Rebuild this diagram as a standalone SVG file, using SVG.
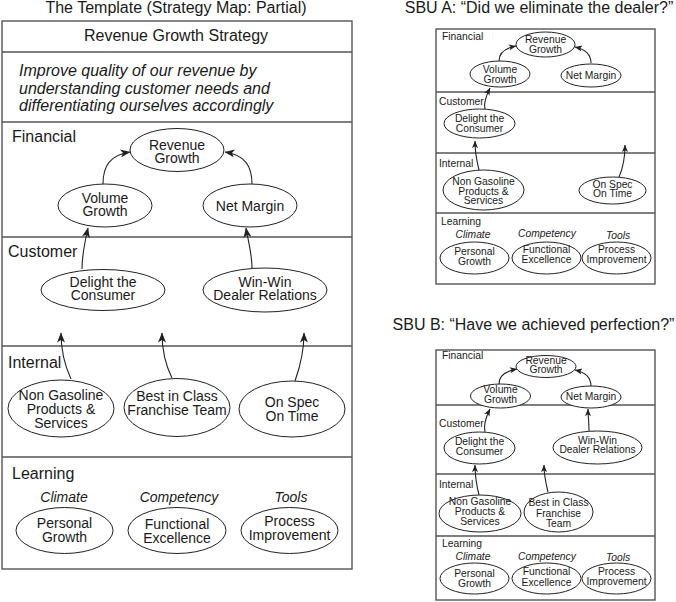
<svg xmlns="http://www.w3.org/2000/svg" width="676" height="602" viewBox="0 0 676 602">
<defs>
<style>
text{font-family:"Liberation Sans",Arial,sans-serif;fill:#1a1a1a}
.t16{font-size:16px}
.sec{font-size:16px}
.n{font-size:14px;text-anchor:middle}
.s{font-size:10.3px}
.sn{font-size:10.3px;text-anchor:middle}
.it{font-style:italic}
.panel{fill:none;stroke:#555;stroke-width:1.4}
.div{stroke:#555;stroke-width:1.3}
ellipse{fill:#fff;stroke:#222;stroke-width:1}
.ar{fill:none;stroke:#222;stroke-width:1.1}
.arl{marker-end:url(#ahL)}
.ars{marker-end:url(#ahS)}
</style>
<marker id="ahL" viewBox="0 0 10 8" refX="9.5" refY="4" markerWidth="11" markerHeight="8" markerUnits="userSpaceOnUse" orient="auto"><path d="M0,0 L10,4 L0,8 L2.5,4 z" fill="#222"/></marker>
<marker id="ahS" viewBox="0 0 10 8" refX="9.5" refY="4" markerWidth="8" markerHeight="6" markerUnits="userSpaceOnUse" orient="auto"><path d="M0,0 L10,4 L0,8 L2.5,4 z" fill="#222"/></marker>
</defs>

<!-- Left: Template -->
<g id="template-frame">
<text class="t16" x="176" y="13" text-anchor="middle">The Template (Strategy Map: Partial)</text>
<rect class="panel" x="2" y="21" width="350" height="548"/>
<line class="div" x1="2" y1="52" x2="352" y2="52"/>
<line class="div" x1="2" y1="122" x2="352" y2="122"/>
<line class="div" x1="2" y1="237" x2="352" y2="237"/>
<line class="div" x1="2" y1="346" x2="352" y2="346"/>
<line class="div" x1="2" y1="457" x2="352" y2="457"/>
<text class="t16" x="176" y="41" text-anchor="middle">Revenue Growth Strategy</text>
<text class="t16 it" x="19" y="76">Improve quality of our revenue by</text>
<text class="t16 it" x="19" y="94">understanding customer needs and</text>
<text class="t16 it" x="19" y="111">differentiating ourselves accordingly</text>
<text class="sec" x="12" y="142">Financial</text>
<text class="sec" x="8" y="257">Customer</text>
<text class="sec" x="8" y="368">Internal</text>
<text class="sec" x="12" y="479">Learning</text>
<text class="n it" x="64" y="502">Climate</text>
<text class="n it" x="179" y="502">Competency</text>
<text class="n it" x="291" y="502">Tools</text>
</g>

<!-- SBU A frame -->
<g id="a-frame">
<text class="t16" x="539" y="13" text-anchor="middle">SBU A: “Did we eliminate the dealer?”</text>
<rect class="panel" x="436" y="29" width="219" height="255"/>
<line class="div" x1="436" y1="92" x2="655" y2="92"/>
<line class="div" x1="436" y1="153" x2="655" y2="153"/>
<line class="div" x1="436" y1="213" x2="655" y2="213"/>
<text class="s" x="442" y="40">Financial</text>
<text class="s" x="439" y="105">Customer</text>
<text class="s" x="439" y="167">Internal</text>
<text class="s" x="441" y="225">Learning</text>
<text class="sn it" x="473" y="238">Climate</text>
<text class="sn it" x="547" y="237">Competency</text>
<text class="sn it" x="618" y="239">Tools</text>
</g>

<!-- SBU B frame -->
<g id="b-frame">
<text class="t16" x="533.5" y="330" text-anchor="middle">SBU B: “Have we achieved perfection?”</text>
<rect class="panel" x="436" y="350" width="219" height="250"/>
<line class="div" x1="436" y1="405" x2="655" y2="405"/>
<line class="div" x1="436" y1="474" x2="655" y2="474"/>
<line class="div" x1="436" y1="536" x2="655" y2="536"/>
<text class="s" x="442" y="359">Financial</text>
<text class="s" x="439" y="427">Customer</text>
<text class="s" x="439" y="488">Internal</text>
<text class="s" x="442" y="547">Learning</text>
<text class="sn it" x="473" y="560">Climate</text>
<text class="sn it" x="547" y="560">Competency</text>
<text class="sn it" x="618" y="561">Tools</text>
</g>

<g id="connectors">
<path class="ar arl" d="M103,184 C103,166 110,155 130,152"/>
<path class="ar arl" d="M252,184 C252,166 245,155 225,152"/>
<path class="ar arl" d="M82,269 C82,255 85,241 88,228"/>
<path class="ar arl" d="M252,268 C252,253 248,241 246,228"/>
<path class="ar arl" d="M71,379 C65,366 61,350 61,333"/>
<path class="ar arl" d="M172,378 C166,366 162,350 162,333"/>
<path class="ar arl" d="M295,381 C300,367 304,350 304,333"/>

<path class="ar ars" d="M499,61 C499,52 506,48 516,46"/>
<path class="ar ars" d="M591,63 C591,54 584,49 575,47"/>
<path class="ar ars" d="M485,109 C483,102 487,94 490,88"/>
<path class="ar ars" d="M479,170 C477,162 475,152 475,141"/>
<path class="ar ars" d="M619,177 C623,168 625,158 625,145"/>

<path class="ar ars" d="M499,384 C499,376 506,371 517,369"/>
<path class="ar ars" d="M591,386 C591,377 584,372 575,370"/>
<path class="ar ars" d="M485,432 C483,424 487,415 490,409"/>
<path class="ar ars" d="M589,431 C589,422 588,415 588,409"/>
<path class="ar ars" d="M479,495 C477,487 475,477 475,465"/>
<path class="ar ars" d="M548,492 C546,484 544,476 544,465"/>
</g>

<g id="t-revenue-growth"><ellipse cx="177" cy="150" rx="47" ry="21.5"/><text class="n" x="177" y="150">Revenue</text><text class="n" x="177" y="163">Growth</text></g>
<g id="t-volume-growth"><ellipse cx="105" cy="205.5" rx="47" ry="21.5"/><text class="n" x="105" y="203">Volume</text><text class="n" x="105" y="216">Growth</text></g>
<g id="t-net-margin"><ellipse cx="250" cy="205.5" rx="47" ry="21.5"/><text class="n" x="250" y="211">Net Margin</text></g>
<g id="t-delight"><ellipse cx="103" cy="290" rx="62" ry="20.5"/><text class="n" x="103" y="287">Delight the</text><text class="n" x="103" y="300">Consumer</text></g>
<g id="t-winwin"><ellipse cx="265" cy="290" rx="62" ry="22"/><text class="n" x="265" y="287">Win-Win</text><text class="n" x="265" y="300">Dealer Relations</text></g>
<g id="t-nongas"><ellipse cx="61" cy="408.5" rx="53" ry="28.5"/><text class="n" x="61" y="400">Non Gasoline</text><text class="n" x="61" y="414">Products &amp;</text><text class="n" x="61" y="428">Services</text></g>
<g id="t-bestinclass"><ellipse cx="177" cy="407.5" rx="53" ry="29"/><text class="n" x="177" y="401">Best in Class</text><text class="n" x="177" y="415">Franchise Team</text></g>
<g id="t-onspec"><ellipse cx="292" cy="409" rx="53" ry="28"/><text class="n" x="292" y="407">On Spec</text><text class="n" x="292" y="421">On Time</text></g>
<g id="t-personal"><ellipse cx="64.5" cy="530.5" rx="48.5" ry="23"/><text class="n" x="64.5" y="528">Personal</text><text class="n" x="64.5" y="542">Growth</text></g>
<g id="t-functional"><ellipse cx="177" cy="530.5" rx="49" ry="23"/><text class="n" x="177" y="529">Functional</text><text class="n" x="177" y="543">Excellence</text></g>
<g id="t-process"><ellipse cx="289.5" cy="530.5" rx="48.5" ry="23"/><text class="n" x="289.5" y="526">Process</text><text class="n" x="289.5" y="540">Improvement</text></g>

<g id="a-revenue-growth"><ellipse cx="545.5" cy="44.5" rx="29.5" ry="12.5"/><text class="sn" x="545.5" y="43">Revenue</text><text class="sn" x="545.5" y="53">Growth</text></g>
<g id="a-volume-growth"><ellipse cx="500" cy="74" rx="30" ry="13"/><text class="sn" x="500" y="73">Volume</text><text class="sn" x="500" y="83">Growth</text></g>
<g id="a-net-margin"><ellipse cx="591" cy="75.5" rx="30" ry="11.5"/><text class="sn" x="591" y="78.5">Net Margin</text></g>
<g id="a-delight"><ellipse cx="479.5" cy="123.5" rx="35.5" ry="14.5"/><text class="sn" x="479.5" y="122">Delight the</text><text class="sn" x="479.5" y="132">Consumer</text></g>
<g id="a-nongas"><ellipse cx="483.5" cy="190" rx="40.5" ry="20"/><text class="sn" x="483.5" y="185">Non Gasoline</text><text class="sn" x="483.5" y="194.5">Products &amp;</text><text class="sn" x="483.5" y="204">Services</text></g>
<g id="a-onspec"><ellipse cx="612.5" cy="190.5" rx="33.5" ry="13.5"/><text class="sn" x="612.5" y="187.5">On Spec</text><text class="sn" x="612.5" y="197">On Time</text></g>
<g id="a-personal"><ellipse cx="474.5" cy="258" rx="34.5" ry="16"/><text class="sn" x="474.5" y="255">Personal</text><text class="sn" x="474.5" y="264.5">Growth</text></g>
<g id="a-functional"><ellipse cx="546.5" cy="258" rx="34.5" ry="16"/><text class="sn" x="546.5" y="253">Functional</text><text class="sn" x="546.5" y="263">Excellence</text></g>
<g id="a-process"><ellipse cx="616.5" cy="258" rx="34.5" ry="16"/><text class="sn" x="616.5" y="253">Process</text><text class="sn" x="616.5" y="263">Improvement</text></g>

<g id="b-revenue-growth"><ellipse cx="546" cy="366.5" rx="30" ry="11"/><text class="sn" x="546" y="363.5">Revenue</text><text class="sn" x="546" y="373">Growth</text></g>
<g id="b-volume-growth"><ellipse cx="500.5" cy="396" rx="30" ry="12"/><text class="sn" x="500.5" y="393">Volume</text><text class="sn" x="500.5" y="403">Growth</text></g>
<g id="b-net-margin"><ellipse cx="591" cy="397" rx="30" ry="11"/><text class="sn" x="591" y="400">Net Margin</text></g>
<g id="b-delight"><ellipse cx="479.5" cy="448" rx="35.5" ry="16"/><text class="sn" x="479.5" y="445">Delight the</text><text class="sn" x="479.5" y="455">Consumer</text></g>
<g id="b-winwin"><ellipse cx="597.5" cy="447.5" rx="44.5" ry="16.5"/><text class="sn" x="597.5" y="443.5">Win-Win</text><text class="sn" x="597.5" y="453">Dealer Relations</text></g>
<g id="b-nongas"><ellipse cx="480" cy="513.5" rx="41" ry="18.5"/><text class="sn" x="480" y="505">Non Gasoline</text><text class="sn" x="480" y="515">Products &amp;</text><text class="sn" x="480" y="525">Services</text></g>
<g id="b-bestinclass"><ellipse cx="558.5" cy="512" rx="34.5" ry="20"/><text class="sn" x="558.5" y="506">Best in Class</text><text class="sn" x="558.5" y="516.5">Franchise</text><text class="sn" x="558.5" y="527">Team</text></g>
<g id="b-personal"><ellipse cx="474.5" cy="578.5" rx="34.5" ry="15.5"/><text class="sn" x="474.5" y="577">Personal</text><text class="sn" x="474.5" y="587">Growth</text></g>
<g id="b-functional"><ellipse cx="546.5" cy="578.5" rx="34.5" ry="15.5"/><text class="sn" x="546.5" y="575">Functional</text><text class="sn" x="546.5" y="586">Excellence</text></g>
<g id="b-process"><ellipse cx="616.5" cy="578.5" rx="34.5" ry="15.5"/><text class="sn" x="616.5" y="575">Process</text><text class="sn" x="616.5" y="585">Improvement</text></g>
</svg>
